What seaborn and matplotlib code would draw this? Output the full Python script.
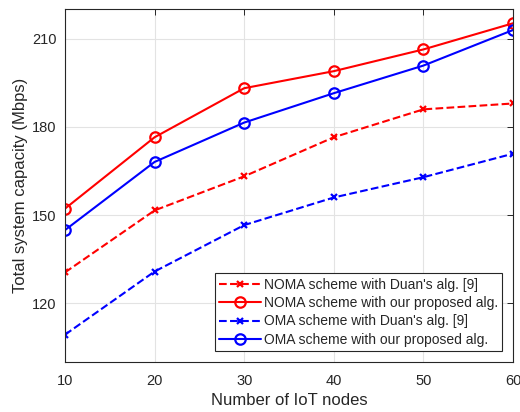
import matplotlib
matplotlib.use("Agg")
import matplotlib.pyplot as plt
import seaborn as sns
import pandas as pd

nodes = [10, 20, 30, 40, 50, 60]
noma_duan = [130.5, 151.6, 163.2, 176.5, 186.0, 188.0]
noma_prop = [152.2, 176.5, 193.2, 199.0, 206.4, 215.3]
oma_duan = [109.3, 130.8, 146.6, 156.0, 162.9, 170.9]
oma_prop = [144.9, 168.1, 181.5, 191.5, 200.9, 213.0]
labels = ["NOMA scheme with Duan's alg. [9]",
          "NOMA scheme with our proposed alg.",
          "OMA scheme with Duan's alg. [9]",
          "OMA scheme with our proposed alg."]
yticks = [120, 150, 180, 210]
xticks = [10, 20, 30, 40, 50, 60]

sns.set_style("white")
plt.rcParams['font.family'] = ['Liberation Sans', 'DejaVu Sans']

fig = plt.figure(figsize=(5.2, 4.12), dpi=100)
ax = fig.add_axes([0.125, 0.1214, 0.8615, 0.8556])

series = [noma_duan, noma_prop, oma_duan, oma_prop]
colors = ['#ff0000', '#ff0000', '#0000ff', '#0000ff']
styles = ['--', '-', '--', '-']
markers = ['x', 'o', 'x', 'o']
msizes = [5, 7.5, 5, 7.5]

for vals, lab, c, ls, m, ms in zip(series, labels, colors, styles, markers, msizes):
    df = pd.DataFrame({'x': nodes, 'y': vals})
    sns.lineplot(data=df, x='x', y='y', ax=ax, color=c, linestyle=ls,
                 marker=m, markersize=ms, markerfacecolor='none',
                 markeredgecolor=c, markeredgewidth=1.6, linewidth=1.5,
                 label=lab, dashes=False if ls == '-' else (4, 3.2))

ax.set_xlim(10, 60)
ax.set_ylim(100, 220)
ax.set_xticks(xticks)
ax.set_yticks(yticks)
ax.grid(True, color='#e3e3e3', linewidth=0.8)
ax.tick_params(direction='in', length=4, width=0.7, top=True, right=True,
               labelsize=10.5, colors='#262626', labelcolor='#262626')
ax.tick_params(axis='x', pad=9)
ax.tick_params(axis='y', pad=6)
for s in ax.spines.values():
    s.set_color('#262626')
    s.set_linewidth(0.8)
ax.set_xlabel('Number of IoT nodes', fontsize=12, color='#262626', labelpad=3)
ax.set_ylabel('Total system capacity (Mbps)', fontsize=12, color='#262626', labelpad=3)

leg = ax.legend(loc='lower right', bbox_to_anchor=(0.976, 0.031), fontsize=10,
                frameon=True, fancybox=False, edgecolor='#262626',
                framealpha=1, handlelength=3.0, handletextpad=0.2,
                borderpad=0.3, labelspacing=0.32, borderaxespad=0.0)
leg.get_frame().set_linewidth(0.8)

fig.savefig('out.png', dpi=100)
